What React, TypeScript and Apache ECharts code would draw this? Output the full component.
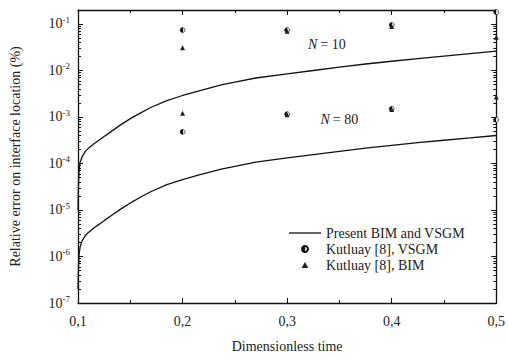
import React, { useEffect, useRef } from "react";
import * as echarts from "echarts";

// Dimensionless time samples for the present-method curves
const tCurve = [0.1, 0.1005, 0.101, 0.102, 0.104, 0.107, 0.11, 0.115, 0.12, 0.125, 0.133, 0.14, 0.152, 0.16, 0.17, 0.185, 0.2, 0.215, 0.237, 0.25, 0.27, 0.3, 0.325, 0.35, 0.375, 0.4, 0.425, 0.45, 0.475, 0.5];
// Present BIM and VSGM, N = 10 (relative error, %)
const curveN10 = [1e-5, 4e-5, 7e-5, 1.05e-4, 1.41e-4, 1.82e-4, 2.14e-4, 2.63e-4, 3.16e-4, 3.8e-4, 5.1e-4, 6.6e-4, 9.8e-4, 1.23e-3, 1.62e-3, 2.24e-3, 2.9e-3, 3.6e-3, 4.9e-3, 5.6e-3, 6.9e-3, 8.5e-3, 1e-2, 1.18e-2, 1.38e-2, 1.58e-2, 1.8e-2, 2.04e-2, 2.3e-2, 2.6e-2];
// Present BIM and VSGM, N = 80
const curveN80 = [2e-7, 6.3e-7, 1.1e-6, 1.6e-6, 2.2e-6, 2.8e-6, 3.3e-6, 4.1e-6, 4.9e-6, 5.9e-6, 7.9e-6, 1.02e-5, 1.5e-5, 1.9e-5, 2.5e-5, 3.5e-5, 4.5e-5, 5.6e-5, 7.6e-5, 8.7e-5, 1.07e-4, 1.32e-4, 1.55e-4, 1.82e-4, 2.14e-4, 2.45e-4, 2.8e-4, 3.16e-4, 3.55e-4, 4e-4];

// Kutluay [8] reference points
const refTimes = [0.2, 0.3, 0.4, 0.5];
const vsgmN10 = [0.074, 0.074, 0.095, 0.18];
const vsgmN80 = [4.8e-4, 1.15e-3, 1.5e-3, 8.7e-4];
const bimN10 = [0.031, 0.07, 0.088, 0.052];
const bimN80 = [1.2e-3, 1.12e-3, 1.45e-3, 2.7e-3];

const xTicks = { min: 0.1, max: 0.5, step: 0.1 };
const yRange = { min: 1e-7, max: 0.2 };

const FONT = "Liberation Serif";

export default function App() {
  const ref = useRef<HTMLDivElement>(null);
  useEffect(() => {
    if (!ref.current) return;
    const chart = echarts.init(ref.current, undefined, { renderer: "svg" });
    const pairs = (xs: number[], ys: number[]) => xs.map((x, i) => [x, ys[i]]);
    const halfCircle = new echarts.graphic.LinearGradient(0, 0, 1, 0, [
      { offset: 0, color: "#111" },
      { offset: 0.55, color: "#111" },
      { offset: 0.55, color: "#ddd" },
      { offset: 1, color: "#ddd" },
    ]);
    const axisCommon = {
      axisLine: { show: true, onZero: false, lineStyle: { color: "#111", width: 1.3 } },
      splitLine: { show: false },
    };
    const yLabel = (v: number) => {
      const l = Math.log10(v);
      const e = Math.round(l);
      if (Math.abs(l - e) > 0.01) return "";
      return `{b|10}{s|${e}}`;
    };
    const lineSeries = (data: number[][], label: string, coord: number[]) => ({
      name: "Present BIM and VSGM",
      type: "line",
      data,
      showSymbol: false,
      symbol: "none",
      lineStyle: { color: "#111", width: 1.3 },
      itemStyle: { color: "#111" },
      markPoint: {
        symbol: "circle",
        symbolSize: 0,
        data: [{ coord, value: label }],
        label: {
          show: true,
          formatter: `{n|N} {r|= ${label}}`,
          rich: {
            n: { fontFamily: FONT, fontStyle: "italic", fontSize: 14, color: "#222" },
            r: { fontFamily: FONT, fontSize: 14, color: "#222" },
          },
        },
      },
    });
    chart.setOption({
      animation: false,
      backgroundColor: "#fff",
      textStyle: { fontFamily: FONT },
      grid: { left: 75, right: 8, top: 10, bottom: 52, containLabel: false },
      legend: {
        orient: "vertical",
        left: 289,
        top: 226,
        padding: 0,
        itemWidth: 32,
        itemHeight: 6,
        itemGap: 2,
        symbolKeepAspect: true,
        textStyle: { fontFamily: FONT, fontSize: 14, color: "#222" },
        data: [
          {
            name: "Present BIM and VSGM",
            icon: "path://M0,0 L32,0 L32,1.3 L0,1.3 Z",
            itemStyle: { color: "#111" },
          },
          { name: "Kutluay [8], VSGM", icon: "circle" },
          { name: "Kutluay [8], BIM", icon: "path://M5,0 L10,9 L0,9 Z", itemStyle: { color: "#222" } },
        ],
      },
      xAxis: [
        {
          ...axisCommon,
          type: "value",
          min: xTicks.min,
          max: xTicks.max,
          interval: xTicks.step,
          name: "Dimensionless time",
          nameLocation: "middle",
          nameGap: 36,
          nameTextStyle: { fontFamily: FONT, fontSize: 14, color: "#222" },
          axisTick: { show: true, inside: true, length: 5, lineStyle: { color: "#111" } },
          minorTick: { show: true, splitNumber: 2, length: 3, lineStyle: { color: "#111" } },
          axisLabel: {
            fontFamily: FONT,
            fontSize: 14,
            color: "#222",
            margin: 11,
            formatter: (v: number) => v.toFixed(1).replace(".", ","),
          },
        },
        {
          ...axisCommon,
          type: "value",
          position: "top",
          min: xTicks.min,
          max: xTicks.max,
          interval: xTicks.step,
          axisTick: { show: true, inside: true, length: 5, lineStyle: { color: "#111" } },
          minorTick: { show: true, splitNumber: 2, length: 3, lineStyle: { color: "#111" } },
          axisLabel: { show: false },
        },
      ],
      yAxis: [
        {
          ...axisCommon,
          type: "log",
          logBase: 10,
          min: yRange.min,
          max: yRange.max,
          name: "Relative error on interface location (%)",
          nameLocation: "middle",
          nameGap: 56,
          nameRotate: 90,
          nameTextStyle: { fontFamily: FONT, fontSize: 14, color: "#222" },
          axisTick: { show: true, inside: true, length: 5, lineStyle: { color: "#111" } },
          minorTick: { show: true, splitNumber: 9, length: 3, lineStyle: { color: "#111" } },
          axisLabel: {
            margin: 8,
            showMaxLabel: false,
            formatter: yLabel,
            rich: {
              b: { fontFamily: FONT, fontSize: 14, color: "#222" },
              s: { fontFamily: FONT, fontSize: 9, color: "#222", padding: [0, 0, 8, 0] },
            },
          },
        },
        {
          ...axisCommon,
          type: "log",
          logBase: 10,
          position: "right",
          min: yRange.min,
          max: yRange.max,
          axisTick: { show: true, inside: true, length: 5, lineStyle: { color: "#111" } },
          minorTick: { show: true, splitNumber: 9, length: 3, lineStyle: { color: "#111" } },
          axisLabel: { show: false },
        },
      ],
      series: [
        lineSeries(pairs(tCurve, curveN10), "10", [0.338, 0.037]),
        lineSeries(pairs(tCurve, curveN80), "80", [0.35, 9e-4]),
        {
          name: "Kutluay [8], VSGM",
          type: "scatter",
          symbol: "circle",
          symbolSize: 5,
          clip: false,
          itemStyle: { color: halfCircle, borderColor: "#111", borderWidth: 0.6, opacity: 1 },
          data: [...pairs(refTimes, vsgmN10), ...pairs(refTimes, vsgmN80)],
        },
        {
          name: "Kutluay [8], BIM",
          type: "scatter",
          symbol: "triangle",
          symbolSize: 5,
          clip: false,
          itemStyle: { color: "#222", opacity: 1 },
          data: [...pairs(refTimes, bimN10), ...pairs(refTimes, bimN80)],
        },
      ],
    });
    return () => chart.dispose();
  }, []);
  return (
    <div
      ref={ref}
      style={{ position: "fixed", left: 0, top: 0, width: 508, height: 358, background: "#fff" }}
    />
  );
}
